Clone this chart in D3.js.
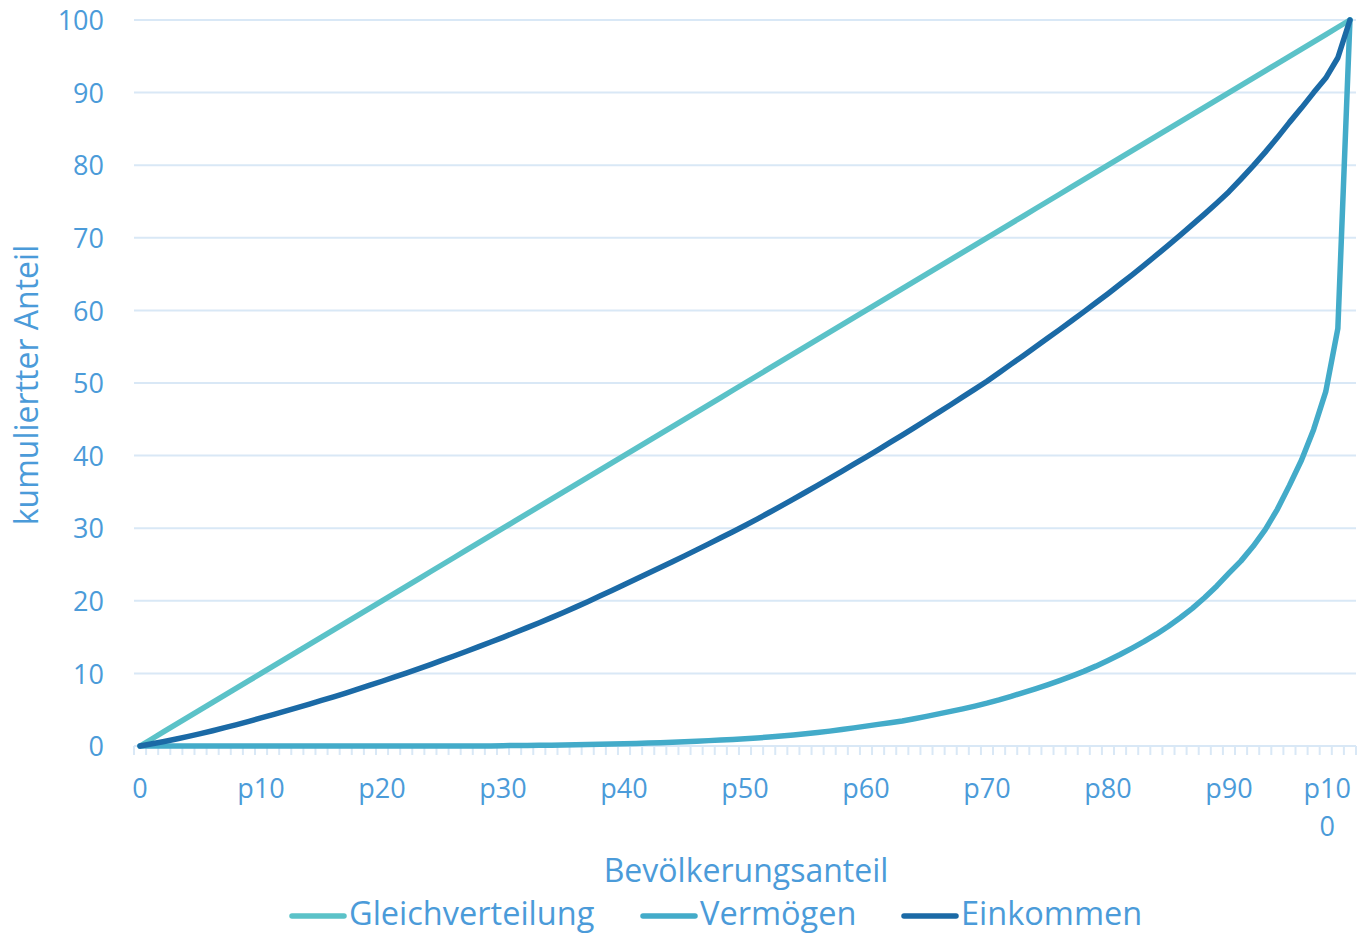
<!DOCTYPE html>
<html>
<head>
<meta charset="utf-8">
<script src="https://cdn.jsdelivr.net/npm/d3@7"></script>
<style>
  html, body { margin: 0; padding: 0; background: #ffffff; }
  svg { display: block; }
  text { font-family: "Open Sans", "DejaVu Sans", sans-serif; fill: #4b9bd9; }
</style>
</head>
<body>
<svg id="chart" width="1358" height="935"></svg>
<script>
// ---------- DATA ----------
const categories = ["0",
 "p1","p2","p3","p4","p5","p6","p7","p8","p9","p10",
 "p11","p12","p13","p14","p15","p16","p17","p18","p19","p20",
 "p21","p22","p23","p24","p25","p26","p27","p28","p29","p30",
 "p31","p32","p33","p34","p35","p36","p37","p38","p39","p40",
 "p41","p42","p43","p44","p45","p46","p47","p48","p49","p50",
 "p51","p52","p53","p54","p55","p56","p57","p58","p59","p60",
 "p61","p62","p63","p64","p65","p66","p67","p68","p69","p70",
 "p71","p72","p73","p74","p75","p76","p77","p78","p79","p80",
 "p81","p82","p83","p84","p85","p86","p87","p88","p89","p90",
 "p91","p92","p93","p94","p95","p96","p97","p98","p99","p100"];

const gleichverteilung = [0,
 1,2,3,4,5,6,7,8,9,10,
 11,12,13,14,15,16,17,18,19,20,
 21,22,23,24,25,26,27,28,29,30,
 31,32,33,34,35,36,37,38,39,40,
 41,42,43,44,45,46,47,48,49,50,
 51,52,53,54,55,56,57,58,59,60,
 61,62,63,64,65,66,67,68,69,70,
 71,72,73,74,75,76,77,78,79,80,
 81,82,83,84,85,86,87,88,89,90,
 91,92,93,94,95,96,97,98,99,100];

const vermoegen = [0,
 0,0,0,0,0,0,0,0,0,0,
 0,0,0,0,0,0,0,0,0,0,
 0,0,0,0,0,0,0,0,0,0.05,
 0.06,0.08,0.1,0.12,0.15,0.18,0.21,0.24,0.27,0.31,
 0.35,0.4,0.46,0.52,0.59,0.66,0.74,0.82,0.91,1.0,
 1.11,1.23,1.37,1.52,1.68,1.85,2.05,2.27,2.5,2.74,
 2.98,3.2,3.45,3.75,4.08,4.42,4.77,5.12,5.5,5.9,
 6.35,6.85,7.35,7.88,8.42,9.0,9.62,10.28,11.0,11.78,
 12.6,13.48,14.4,15.4,16.5,17.7,19.0,20.45,22.05,23.8,
 25.5,27.5,29.8,32.6,35.9,39.4,43.6,48.8,57.5,100];

const einkommen = [0,
 0.3,0.62,0.96,1.32,1.7,2.1,2.52,2.95,3.4,3.87,
 4.33,4.8,5.28,5.77,6.27,6.78,7.3,7.83,8.37,8.92,
 9.48,10.05,10.63,11.22,11.82,12.43,13.05,13.68,14.32,14.97,
 15.63,16.3,16.98,17.68,18.4,19.13,19.88,20.65,21.43,22.22,
 23.0,23.79,24.58,25.38,26.19,27.01,27.84,28.68,29.52,30.37,
 31.25,32.16,33.08,34.01,34.95,35.9,36.86,37.83,38.81,39.8,
 40.8,41.81,42.83,43.86,44.9,45.95,47.01,48.08,49.16,50.25,
 51.42,52.6,53.77,54.95,56.15,57.35,58.57,59.8,61.05,62.3,
 63.6,64.9,66.25,67.6,69.0,70.4,71.85,73.3,74.8,76.35,
 78.1,79.9,81.8,83.8,85.9,87.9,90.0,92.0,94.8,100];

const xTickLabels = ["0","p10","p20","p30","p40","p50","p60","p70","p80","p90","p100"];
const yTicks = [0,10,20,30,40,50,60,70,80,90,100];

const seriesNames = ["Gleichverteilung","Vermögen","Einkommen"];
const seriesColors = ["#5bc2c8","#43abc9","#1b6aa6"];
const seriesData = [gleichverteilung, vermoegen, einkommen];

const xTitle = "Bevölkerungsanteil";
const yTitle = "kumuliertter Anteil";

// ---------- LAYOUT ----------
const W = 1358, H = 935;
const plot = {left: 134, right: 1356, top: 20, bottom: 746};
const gridColor = "#d9e8f6";

const svg = d3.select("#chart");

const x = d3.scaleBand().domain(categories).range([plot.left, plot.right]).paddingInner(0).paddingOuter(0);
const xc = c => x(c) + x.bandwidth() / 2;
const y = d3.scaleLinear().domain([0, 100]).range([plot.bottom, plot.top]);

// gridlines
svg.append("g").selectAll("line").data(yTicks.filter(t => t > 0)).join("line")
  .attr("x1", plot.left).attr("x2", plot.right)
  .attr("y1", d => y(d)).attr("y2", d => y(d))
  .attr("stroke", gridColor).attr("stroke-width", 2);

// y axis labels
const yAxis = d3.axisLeft(y).tickValues(yTicks).tickSize(0).tickPadding(0);
const gy = svg.append("g").attr("transform", `translate(104,0)`).call(yAxis);
gy.select(".domain").remove();
gy.selectAll("text").attr("font-size", 27).attr("fill", "#4b9bd9")
  .style("font-family", '"Open Sans", sans-serif').attr("dy", "0.36em").attr("x", 0);

// x axis line and tick marks at band boundaries
const boundaries = categories.map(c => x(c)).concat([plot.right]);
svg.append("line").attr("x1", plot.left).attr("x2", plot.right)
  .attr("y1", plot.bottom).attr("y2", plot.bottom)
  .attr("stroke", gridColor).attr("stroke-width", 2);
svg.append("g").selectAll("line").data(boundaries).join("line")
  .attr("x1", d => d).attr("x2", d => d)
  .attr("y1", plot.bottom).attr("y2", plot.bottom + 9)
  .attr("stroke", gridColor).attr("stroke-width", 2);

// x tick labels
const xl = svg.append("g");
xTickLabels.forEach(lab => {
  const cx = xc(lab);
  const t = xl.append("text").attr("text-anchor", "middle").attr("font-size", 27)
    .attr("x", cx).attr("y", 798).text(lab);
  const w = t.node().getComputedTextLength();
  if (cx + w / 2 > W - 4) {
    // wrap like the reference: split so that lines fit
    t.text(null);
    const line1 = lab.slice(0, 3), line2 = lab.slice(3);
    const tmp = xl.append("text").attr("font-size", 27).text(line1);
    const w1 = tmp.node().getComputedTextLength();
    tmp.remove();
    const nx = W - 7 - w1 / 2;
    t.attr("x", nx);
    t.append("tspan").attr("x", nx).attr("dy", 0).text(line1);
    t.append("tspan").attr("x", nx).attr("dy", 38).text(line2);
  }
});

// lines
const lineGen = d3.line().x((d, i) => xc(categories[i])).y(d => y(d));
seriesData.forEach((data, k) => {
  svg.append("path").datum(data)
    .attr("d", lineGen)
    .attr("fill", "none")
    .attr("stroke", seriesColors[k])
    .attr("stroke-width", 5.5)
    .attr("stroke-linejoin", "round")
    .attr("stroke-linecap", "round");
});

// axis titles
svg.append("text").attr("x", 746).attr("y", 882).attr("text-anchor", "middle")
  .attr("font-size", 32).text(xTitle);
svg.append("text").attr("transform", "translate(38,385) rotate(-90)")
  .attr("text-anchor", "middle").attr("font-size", 32).text(yTitle);

// legend
const legendX = [290, 641, 902];
const legendY = 916;
seriesNames.forEach((name, k) => {
  const g = svg.append("g");
  g.append("line").attr("x1", legendX[k] + 2).attr("x2", legendX[k] + 54)
    .attr("y1", legendY).attr("y2", legendY)
    .attr("stroke", seriesColors[k]).attr("stroke-width", 5.5).attr("stroke-linecap", "round");
  g.append("text").attr("x", legendX[k] + 59).attr("y", legendY + 9)
    .attr("font-size", 32.5).text(name);
});
</script>
</body>
</html>
